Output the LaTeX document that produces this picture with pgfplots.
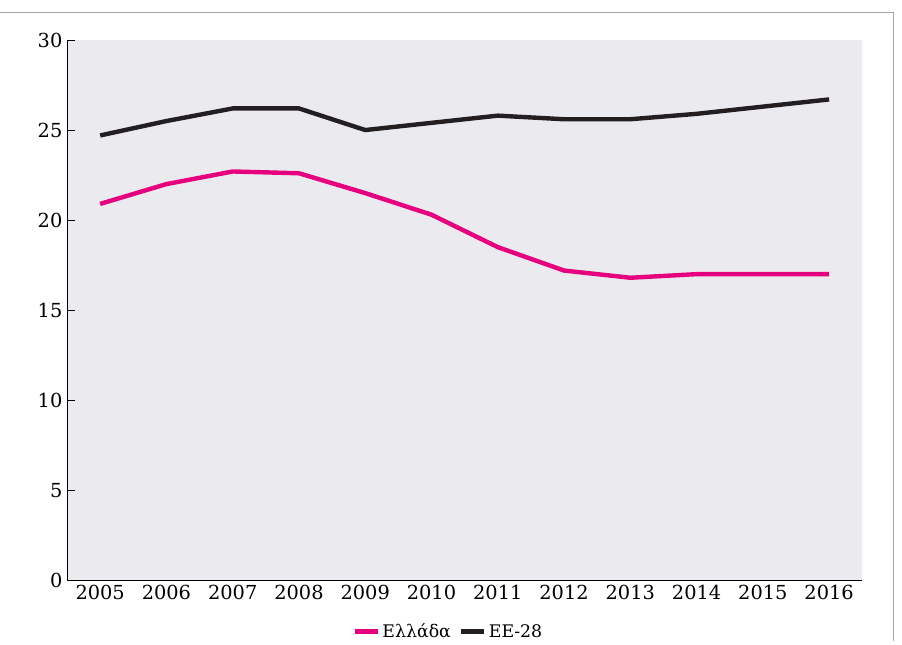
\documentclass[border=0pt]{standalone}
\usepackage{pgfplots}
\pgfplotsset{compat=1.18}
\usepackage{fontspec}
\setmainfont{DejaVu Serif}
\definecolor{bgc}{RGB}{235,235,239}
\begin{document}
\begin{tikzpicture}
\begin{axis}[
  scale only axis, width=596pt, height=405pt,
  xmin=-0.5, xmax=11.5, ymin=0, ymax=30,
  axis background/.style={fill=bgc},
  axis x line*=bottom, axis y line*=left,
  xtick={0,...,11}, xticklabels={2005,2006,2007,2008,2009,2010,2011,2012,2013,2014,2015,2016},
  extra x ticks={-0.5,0.5,...,11.5}, extra x tick labels={},
  extra x tick style={major tick length=6pt, tick style={black}},
  major x tick style={draw=none},
  ytick={0,5,...,30}, tick style={black}, major tick length=6pt,
  tick label style={font=\fontsize{14.5}{16}\selectfont},
  /pgf/number format/assume math mode=true,
  legend style={at={(rel axis cs:0.48,-0.095)}, anchor=center, draw=none, fill=none, font=\fontsize{13}{15}\selectfont},
  legend columns=2, legend cell align=left,
  clip=false,
]
\addplot[line width=3.3pt, color={rgb,255:red,230;green,0;blue,126}] coordinates {(0,20.9)(1,22.0)(2,22.7)(3,22.6)(4,21.5)(5,20.3)(6,18.5)(7,17.2)(8,16.8)(9,17.0)(10,17.0)(11,17.0)};
\addlegendentry{Ελλάδα\ \ }
\addplot[line width=3.3pt, color={rgb,255:red,35;green,31;blue,32}] coordinates {(0,24.7)(1,25.5)(2,26.2)(3,26.2)(4,25.0)(5,25.4)(6,25.8)(7,25.6)(8,25.6)(9,25.9)(10,26.3)(11,26.7)};
\addlegendentry{ΕΕ-28}
\useasboundingbox (rel axis cs:-0.0843,-0.113) rectangle (rel axis cs:1.050,1.074);
\draw[gray!70] (rel axis cs:-0.0843,1.052) -- (rel axis cs:1.039,1.052) -- (rel axis cs:1.039,-0.113);
\end{axis}
\end{tikzpicture}
\end{document}
